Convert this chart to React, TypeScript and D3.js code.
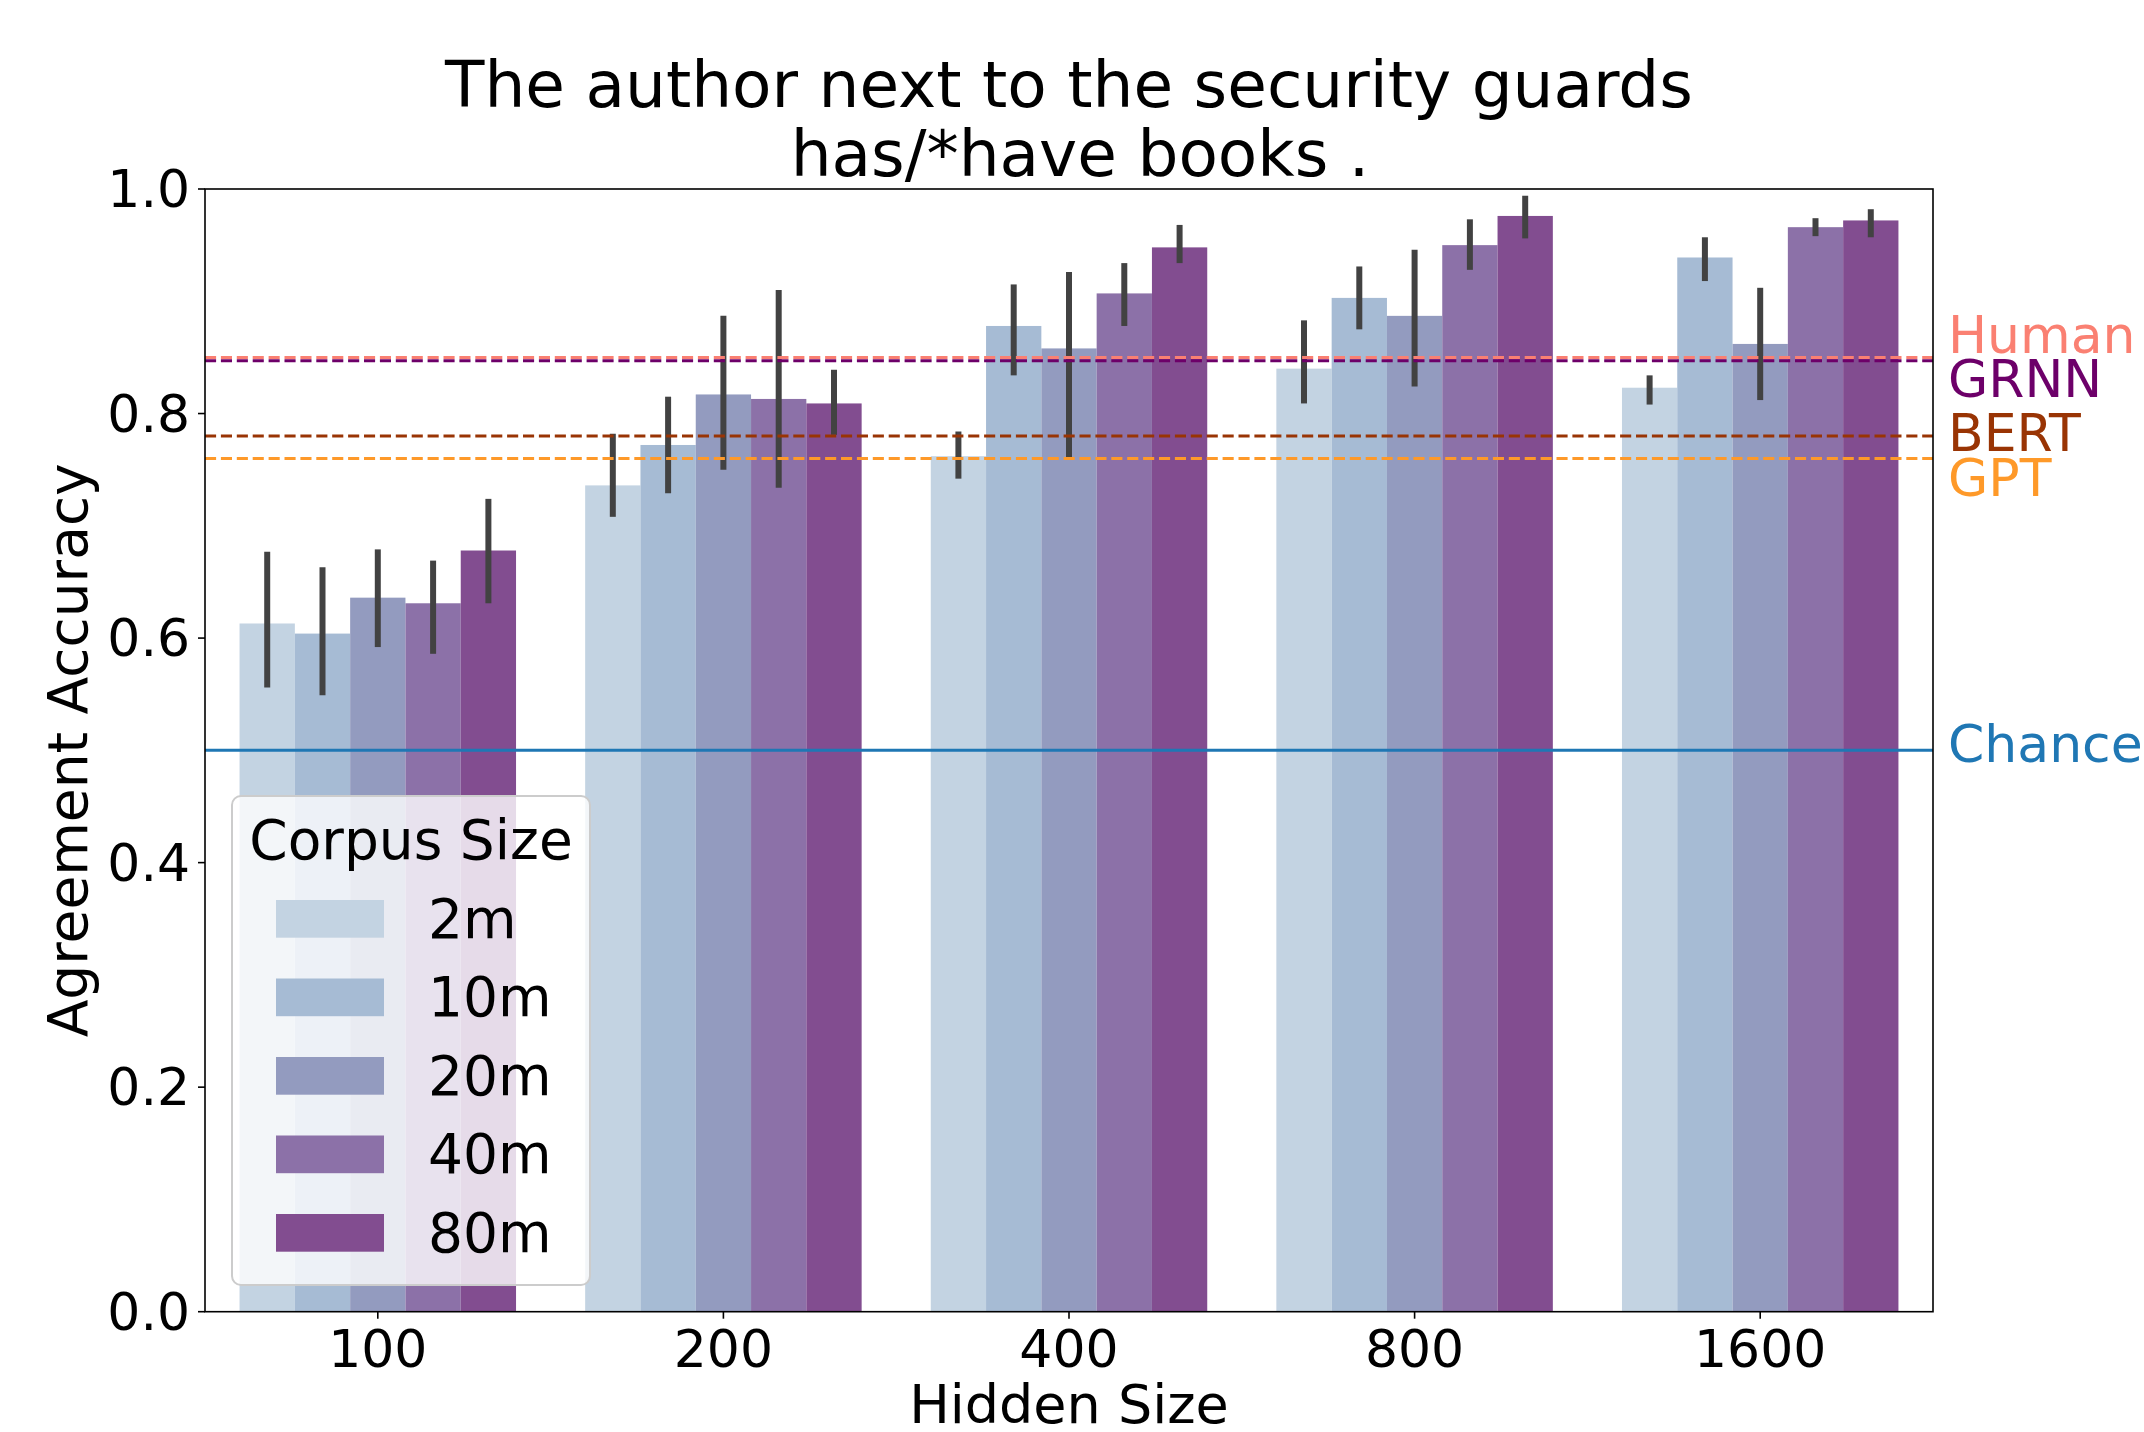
import React from "react";
import * as d3 from "d3";

// hidden sizes on the x axis, corpus sizes as the series
const hiddenSizes = ["100", "200", "400", "800", "1600"];
const corpusSizes = ["2m", "10m", "20m", "40m", "80m"];
const corpusColors = ["#c3d3e2", "#a6bbd4", "#939bbf", "#8c71a8", "#824d90"];

// mean accuracy, one row per hidden size, one column per corpus size
const meanAcc = [
  [0.613, 0.604, 0.636, 0.631, 0.678],
  [0.736, 0.772, 0.817, 0.813, 0.809],
  [0.762, 0.878, 0.858, 0.907, 0.948],
  [0.840, 0.903, 0.887, 0.950, 0.976],
  [0.823, 0.939, 0.862, 0.966, 0.972],
];
const errLow = [
  [0.556, 0.549, 0.592, 0.586, 0.631],
  [0.708, 0.729, 0.750, 0.734, 0.781],
  [0.742, 0.834, 0.759, 0.878, 0.934],
  [0.809, 0.875, 0.824, 0.928, 0.956],
  [0.808, 0.918, 0.812, 0.958, 0.957],
];
const errHigh = [
  [0.677, 0.663, 0.679, 0.669, 0.724],
  [0.782, 0.815, 0.887, 0.910, 0.839],
  [0.784, 0.915, 0.926, 0.934, 0.968],
  [0.883, 0.931, 0.946, 0.973, 0.994],
  [0.834, 0.957, 0.912, 0.974, 0.982],
];

// reference lines
const refNames = ["Human", "GRNN", "BERT", "GPT", "Chance"];
const refValues = [0.85, 0.847, 0.78, 0.76, 0.5];
const refLabelPos = [0.87, 0.831, 0.783, 0.743, 0.506];
const refColors = ["#fa8072", "#6d0069", "#993404", "#fe9929", "#1f77b4"];
const refDashed = [true, true, true, true, false];

const yTicks = [0, 0.2, 0.4, 0.6, 0.8, 1.0];

const W = 2144;
const H = 1432;
const left = 205;
const right = 1933;
const top = 189;
const bottom = 1311.7;
const font = "DejaVu Sans, sans-serif";

export default function App() {
  const x = d3.scaleBand().domain(hiddenSizes).range([left, right]).paddingInner(0.2).paddingOuter(0.1);
  const xs = d3.scaleBand().domain(corpusSizes).range([0, x.bandwidth()]);
  const y = d3.scaleLinear().domain([0, 1]).range([bottom, top]);
  const fmt = d3.format(".1f");

  return (
    <svg width={W} height={H} style={{ display: "block", position: "absolute", left: 0, top: 0 }} fontFamily={font}>
      <rect width={W} height={H} fill="#fff" />
      {/* bars */}
      {hiddenSizes.map((h, i) =>
        corpusSizes.map((c, j) => (
          <rect
            key={`b-${h}-${c}`}
            x={x(h)! + xs(c)!}
            y={y(meanAcc[i][j])}
            width={xs.bandwidth()}
            height={y(0) - y(meanAcc[i][j])}
            fill={corpusColors[j]}
          />
        ))
      )}
      {/* error bars */}
      {hiddenSizes.map((h, i) =>
        corpusSizes.map((c, j) => {
          const cx = x(h)! + xs(c)! + xs.bandwidth() / 2;
          return (
            <line
              key={`e-${h}-${c}`}
              x1={cx}
              x2={cx}
              y1={y(errLow[i][j])}
              y2={y(errHigh[i][j])}
              stroke="#424242"
              strokeWidth={6}
            />
          );
        })
      )}
      {/* reference lines */}
      {refNames.map((n, k) => (
        <line
          key={`r-${n}`}
          x1={left}
          x2={right}
          y1={y(refValues[k])}
          y2={y(refValues[k])}
          stroke={refColors[k]}
          strokeWidth={3}
          strokeDasharray={refDashed[k] ? "11.1,4.8" : undefined}
        />
      ))}
      {refNames.map((n, k) => (
        <text
          key={`rl-${n}`}
          x={right + 15}
          y={y(refLabelPos[k])}
          dominantBaseline="central"
          fontSize={52}
          fill={refColors[k]}
        >
          {n}
        </text>
      ))}
      {/* frame */}
      <rect x={left} y={top} width={right - left} height={bottom - top} fill="none" stroke="#000" strokeWidth={1.6} />
      {/* y axis */}
      {yTicks.map((t) => (
        <g key={`yt-${t}`}>
          <line x1={left - 7} x2={left} y1={y(t)} y2={y(t)} stroke="#000" strokeWidth={1.6} />
          <text x={left - 15} y={y(t)} textAnchor="end" dominantBaseline="central" fontSize={52}>
            {fmt(t)}
          </text>
        </g>
      ))}
      {/* x axis */}
      {hiddenSizes.map((h) => {
        const cx = x(h)! + x.bandwidth() / 2;
        return (
          <g key={`xt-${h}`}>
            <line x1={cx} x2={cx} y1={bottom} y2={bottom + 7} stroke="#000" strokeWidth={1.6} />
            <text x={cx} y={1367} textAnchor="middle" fontSize={52}>
              {h}
            </text>
          </g>
        );
      })}
      <text x={(left + right) / 2} y={1423} textAnchor="middle" fontSize={54}>
        Hidden Size
      </text>
      <text
        transform={`translate(87,${(top + bottom) / 2}) rotate(-90)`}
        textAnchor="middle"
        fontSize={55}
      >
        Agreement Accuracy
      </text>
      {/* title */}
      <text x={(left + right) / 2} y={107} textAnchor="middle" fontSize={64.5}>
        The author next to the security guards
      </text>
      <text x={(left + right) / 2 + 11} y={176} textAnchor="middle" fontSize={64.5}>
        has/*have books .
      </text>
      {/* legend */}
      <g>
        <rect x={232} y={796} width={358} height={489} rx={9} fill="#fff" fillOpacity={0.8} stroke="#cccccc" strokeWidth={2} />
        <text x={411} y={859} textAnchor="middle" fontSize={55}>
          Corpus Size
        </text>
        {corpusSizes.map((c, j) => (
          <g key={`lg-${c}`} transform={`translate(0,${j * 78.5})`}>
            <rect x={276} y={900} width={108} height={37.7} fill={corpusColors[j]} />
            <text x={428} y={937.7} fontSize={55}>
              {c}
            </text>
          </g>
        ))}
      </g>
    </svg>
  );
}
